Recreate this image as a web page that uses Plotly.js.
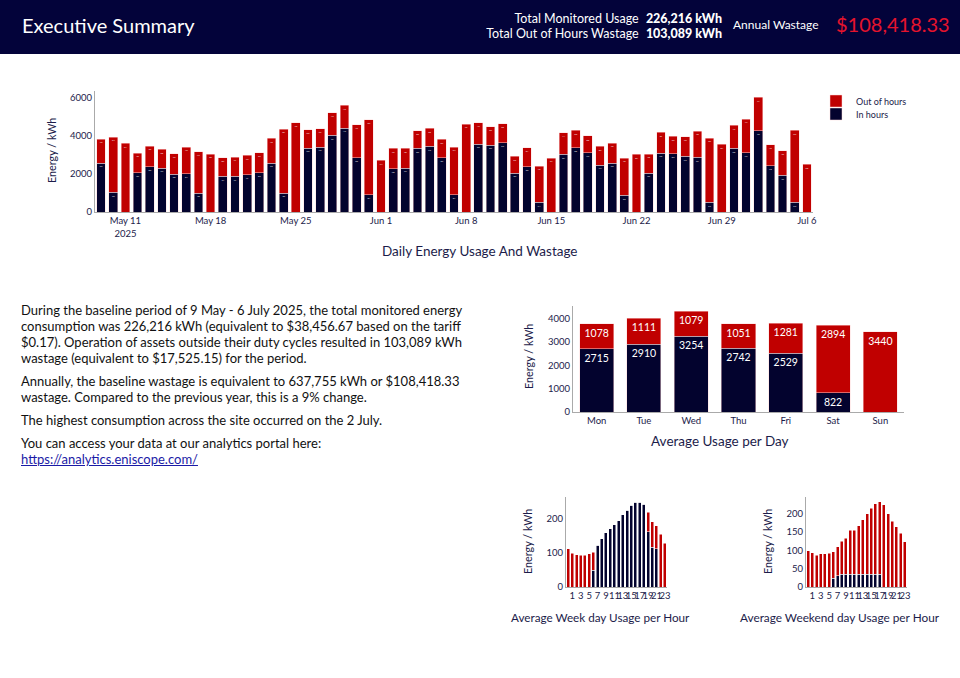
<!DOCTYPE html>
<html>
<head>
<meta charset="utf-8">
<script src="https://cdn.plot.ly/plotly-3.0.1.min.js"></script>
<style>
  html, body { margin:0; padding:0; width:960px; height:678px; overflow:hidden; background:#fff; font-family: Lato, "Open Sans", sans-serif; }
  #chart { position:absolute; left:0; top:0; width:960px; height:678px; }
  #header { position:absolute; left:0; top:0; width:960px; height:54px; background:#03033a; color:#fff; z-index:2; }
  #header .title { position:absolute; left:22px; top:13px; font-size:20px; }
  #header .r1, #header .r2 { position:absolute; right:238px; font-size:12.5px; white-space:nowrap; text-align:right; }
  #header .r1 { top:11px; } #header .r2 { top:26px; }
  #header b { font-weight:900; margin-left:4px; }
  #header .aw { position:absolute; left:733px; top:17px; font-size:12px; }
  #header .av { position:absolute; left:836px; top:12px; font-size:20px; color:#e5142d; }
  #text { position:absolute; left:21px; top:302px; width:470px; font-size:13px; line-height:16px; color:#111; z-index:2; }
  #text p { margin:0 0 7px 0; }
  #text a { color:#1a1aa6; }
</style>
</head>
<body>
<div id="chart"></div>
<div id="header">
  <div class="title">Executive Summary</div>
  <div class="r1">Total Monitored Usage <b>226,216 kWh</b></div>
  <div class="r2">Total Out of Hours Wastage <b>103,089 kWh</b></div>
  <div class="aw">Annual Wastage</div>
  <div class="av">$108,418.33</div>
</div>
<div id="text">
  <p>During the baseline period of 9 May - 6 July 2025, the total monitored energy consumption was 226,216 kWh (equivalent to $38,456.67 based on the tariff $0.17). Operation of assets outside their duty cycles resulted in 103,089 kWh wastage (equivalent to $17,525.15) for the period.</p>
  <p>Annually, the baseline wastage is equivalent to 637,755 kWh or $108,418.33 wastage. Compared to the previous year, this is a 9% change.</p>
  <p>The highest consumption across the site occurred on the 2 July.</p>
  <p style="margin-bottom:0">You can access your data at our analytics portal here:<br><a href="#">https://analytics.eniscope.com/</a></p>
</div>
<script>
// ---------- Data ----------
const dailyDates = [
  '2025-05-09','2025-05-10','2025-05-11','2025-05-12','2025-05-13','2025-05-14','2025-05-15',
  '2025-05-16','2025-05-17','2025-05-18','2025-05-19','2025-05-20','2025-05-21','2025-05-22',
  '2025-05-23','2025-05-24','2025-05-25','2025-05-26','2025-05-27','2025-05-28','2025-05-29',
  '2025-05-30','2025-05-31','2025-06-01','2025-06-02','2025-06-03','2025-06-04','2025-06-05',
  '2025-06-06','2025-06-07','2025-06-08','2025-06-09','2025-06-10','2025-06-11','2025-06-12',
  '2025-06-13','2025-06-14','2025-06-15','2025-06-16','2025-06-17','2025-06-18','2025-06-19',
  '2025-06-20','2025-06-21','2025-06-22','2025-06-23','2025-06-24','2025-06-25','2025-06-26',
  '2025-06-27','2025-06-28','2025-06-29','2025-06-30','2025-07-01','2025-07-02','2025-07-03',
  '2025-07-04','2025-07-05','2025-07-06'];
const dailyInHours = [
  2579,1035,0,2070,2385,2315,2000,
  2017,1000,0,1877,1877,1964,2070,
  2578,1000,0,3368,3420,4034,4420,
  2859,904,0,2280,2315,3350,3455,
  2859,904,0,3578,3525,3648,2052,
  2385,511,0,3034,3385,3122,2473,
  2578,872,0,2052,3105,3070,2929,
  2877,516,0,3350,3122,4280,2438,
  1929,515,0];
const dailyOutHours = [
  1263,2912,3614,1035,1088,983,1070,
  1403,2175,3052,982,1017,1018,1052,
  1298,3367,4700,960,971,1193,1193,
  1737,3955,2719,1070,1035,930,950,
  962,2516,4631,1123,963,990,872,
  991,1909,2841,1141,930,880,982,
  1053,1969,3034,1000,1087,920,1035,
  1385,3378,3561,1210,1772,1754,1105,
  1298,3782,2508];

const weekDays = ['Mon','Tue','Wed','Thu','Fri','Sat','Sun'];
const avgDayIn  = [2715,2910,3254,2742,2529,822,0];
const avgDayOut = [1078,1111,1079,1051,1281,2894,3440];

const hours = [0,1,2,3,4,5,6,7,8,9,10,11,12,13,14,15,16,17,18,19,20,21,22,23];
const weekdayHourIn  = [0,0,0,0,0,0,49,123,142,160,171,184,195,213,226,241,250,250,243,162,117,112,0,0];
const weekdayHourOut = [113,100,95,93,93,98,54,0,0,0,0,0,0,0,0,0,0,0,0,58,75,68,155,129];
const weekendHourIn  = [0,0,0,0,0,0,24,31,35,35,35,35,35,35,35,35,35,35,0,0,0,0,0,0];
const weekendHourOut = [99,93,87,90,90,92,72,79,90,98,120,120,132,148,165,179,191,197,224,199,179,164,147,123];
const hourTicks = [1,3,5,7,9,11,13,15,17,19,21,23];

// ---------- Style ----------
const RED = '#c00000', NAVY = '#03032e';
const INK = '#1c1c4a';
const W = 960, H = 678;
const px = x => x / W;
const py = y => 1 - y / H;
const lbl = arr => arr.map(v => v > 0 ? String(v) : '');
const segLine = {color:'rgba(255,215,215,0.8)', width:0.6};

const traces = [
  {type:'bar', name:'In hours', x:dailyDates, y:dailyInHours, marker:{color:NAVY, line:segLine},
   text:lbl(dailyInHours), textposition:'inside', insidetextanchor:'end', textangle:0,
   textfont:{color:'#fff', size:5}, xaxis:'x', yaxis:'y', legend:'legend2'},
  {type:'bar', name:'Out of hours', x:dailyDates, y:dailyOutHours, marker:{color:RED, line:segLine},
   text:lbl(dailyOutHours), textposition:'inside', insidetextanchor:'end', textangle:0,
   textfont:{color:'#fff', size:5}, xaxis:'x', yaxis:'y', legend:'legend'},

  {type:'bar', name:'In hours', x:weekDays, y:avgDayIn, marker:{color:NAVY, line:segLine},
   text:lbl(avgDayIn), textposition:'inside', insidetextanchor:'end', textangle:0,
   textfont:{color:'#fff', size:10.5}, xaxis:'x2', yaxis:'y2', showlegend:false},
  {type:'bar', name:'Out of hours', x:weekDays, y:avgDayOut, marker:{color:RED, line:segLine},
   text:lbl(avgDayOut), textposition:'inside', insidetextanchor:'end', textangle:0,
   textfont:{color:'#fff', size:10.5}, xaxis:'x2', yaxis:'y2', showlegend:false},

  {type:'bar', name:'In hours', x:hours, y:weekdayHourIn, marker:{color:NAVY, line:{color:'#fff', width:0.5}},
   xaxis:'x3', yaxis:'y3', showlegend:false},
  {type:'bar', name:'Out of hours', x:hours, y:weekdayHourOut, marker:{color:RED, line:{color:'#fff', width:0.5}},
   xaxis:'x3', yaxis:'y3', showlegend:false},

  {type:'bar', name:'In hours', x:hours, y:weekendHourIn, marker:{color:NAVY, line:{color:'#fff', width:0.5}},
   xaxis:'x4', yaxis:'y4', showlegend:false},
  {type:'bar', name:'Out of hours', x:hours, y:weekendHourOut, marker:{color:RED, line:{color:'#fff', width:0.5}},
   xaxis:'x4', yaxis:'y4', showlegend:false}
];

const tickFont = {family:'Lato, sans-serif', size:9.5, color:INK};
const baseAx = {showline:true, linecolor:'#aaaaaa', linewidth:1, showgrid:false, zeroline:false, ticks:'', tickfont:tickFont, fixedrange:true, tickangle:0};

const ann = (text, x, y, size, rot) => ({text, x:px(x), y:py(y), xref:'paper', yref:'paper', showarrow:false,
  xanchor:'center', yanchor:'middle', textangle:rot||0, font:{family:'Lato, sans-serif', size:size, color:INK}});

const legendBase = {xanchor:'left', yanchor:'middle', font:{size:9, color:INK}, itemwidth:30, bgcolor:'rgba(0,0,0,0)'};

const layout = {
  width:W, height:H, margin:{l:0,r:0,t:0,b:0},
  paper_bgcolor:'rgba(0,0,0,0)', plot_bgcolor:'rgba(0,0,0,0)',
  barmode:'stack', bargap:0.28,
  font:{family:'Lato, sans-serif', color:INK},
  showlegend:true,
  legend: Object.assign({}, legendBase, {x:px(816), y:py(101)}),
  legend2: Object.assign({}, legendBase, {x:px(816), y:py(114)}),
  xaxis: Object.assign({}, baseAx, {domain:[px(95), px(813)], type:'date', tick0:'2025-05-11', dtick:7*86400000,
          anchor:'y'}),
  yaxis: Object.assign({}, baseAx, {domain:[py(212), py(91)], range:[0,6370], tickvals:[0,2000,4000,6000], anchor:'x'}),
  xaxis2: Object.assign({}, baseAx, {domain:[px(573), px(904)], anchor:'y2'}),
  yaxis2: Object.assign({}, baseAx, {domain:[py(412), py(306)], range:[0,4550], tickvals:[0,1000,2000,3000,4000], anchor:'x2'}),
  xaxis3: Object.assign({}, baseAx, {domain:[px(566), px(667)], range:[-0.5,23.5], tickvals:hourTicks, anchor:'y3'}),
  yaxis3: Object.assign({}, baseAx, {domain:[py(587), py(497)], range:[0,265], tickvals:[0,100,200], anchor:'x3'}),
  xaxis4: Object.assign({}, baseAx, {domain:[px(806), px(907)], range:[-0.5,23.5], tickvals:hourTicks, anchor:'y4'}),
  yaxis4: Object.assign({}, baseAx, {domain:[py(587), py(497)], range:[0,245], tickvals:[0,50,100,150,200], anchor:'x4'}),
  annotations:[
    ann('Daily Energy Usage And Wastage', 480, 251, 13.5),
    ann('Energy / kWh', 52, 151, 10.8, -90),
    ann('Average Usage per Day', 720, 441, 13.5),
    ann('Energy / kWh', 528, 357, 10.8, -90),
    ann('Average Week day Usage per Hour', 600, 617, 11.7),
    ann('Energy / kWh', 527, 542, 10.8, -90),
    ann('Average Weekend day Usage per Hour', 840, 617, 11.8),
    ann('Energy / kWh', 767, 542, 10.8, -90)
  ]
};

Plotly.newPlot('chart', traces, layout, {displayModeBar:false, staticPlot:true});
</script>
</body>
</html>
